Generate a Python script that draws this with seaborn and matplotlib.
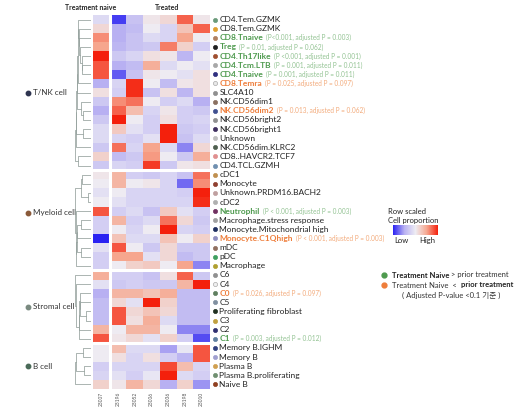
import numpy as np
import pandas as pd
import seaborn as sns
import matplotlib.pyplot as plt
from matplotlib.colors import LinearSegmentedColormap
from matplotlib.transforms import blended_transform_factory

# ---- data ----
samples = ["23007", "23196", "23052", "23006", "23036", "23198", "23010"]

groups = ["T/NK cell", "Myeloid cell", "Stromal cell", "B cell"]
group_sizes = [17, 11, 8, 5]
group_dot_colors = ["#2e3550", "#8a5a3a", "#7a8a80", "#4a6a58"]

cell_types = [
    "CD4.Tem.GZMK", "CD8.Tem.GZMK", "CD8.Tnaive", "Treg", "CD4.Th17like",
    "CD4.Tcm.LTB", "CD4.Tnaive", "CD8.Temra", "SLC4A10", "NK.CD56dim1",
    "NK.CD56dim2", "NK.CD56bright2", "NK.CD56bright1", "Unknown",
    "NK.CD56dim.KLRC2", "CD8..HAVCR2.TCF7", "CD4.TCL.GZMH",
    "cDC1", "Monocyte", "Unknown.PRDM16.BACH2", "cDC2", "Neutrophil",
    "Macrophage.stress response", "Monocyte.Mitochondrial high",
    "Monocyte.C1Qhigh", "mDC", "pDC", "Macrophage",
    "C6", "C4", "C0", "C5", "Proliferating fibroblast", "C3", "C2", "C1",
    "Memory B.IGHM", "Memory B", "Plasma B", "Plasma B.proliferating", "Naive B",
]

# row-scaled proportions (z-score like), one list per sample column
naive = [-0.3, 0.3, 1.2, 1.0, 2.0, 1.6, 1.6, -1.0, 0.2, -0.6, -1.0, -0.6, -0.3, -0.3, -0.6, 0.4, -0.6,
         0.1, 0.0, -0.2, 0.0, 1.6, -0.5, -0.5, -2.2, -0.2, -0.5, -0.5,
         0.9, -0.2, -1.0, -0.8, -0.8, -0.8, 0.8, 1.6,
         0.0, 0.0, -0.5, -0.4, 0.4]
t1 = [-1.8, -1.0, -1.0, -0.9, -0.6, -1.0, -1.6, -0.4, -0.5, 1.2, 1.5, 2.0, 0.5, -0.4, 1.4, -0.8, -0.4,
      0.8, 0.8, 0.0, -0.2, -0.5, 0.8, 0.0, 0.6, 1.6, 1.0, 0.0,
      -0.5, -0.6, 0.8, 0.3, 1.6, 1.6, 0.0, 0.1,
      0.7, 0.2, -0.4, -0.2, 0.1]
t2 = [-0.7, -0.8, -0.7, -0.7, -0.4, -0.8, -0.7, 1.9, 1.9, 1.4, 0.7, 0.0, -0.2, -0.5, -0.4, -0.6, -0.5,
      -0.5, 0.0, -0.4, -0.4, -0.3, -0.5, -0.4, -0.3, 0.0, 1.0, 0.4,
      -0.5, -0.5, 0.8, -0.2, 0.3, 0.2, 0.8, 0.3,
      -0.3, -0.4, -0.4, -0.5, 0.8]
t3 = [0.1, 0.0, -0.3, -0.6, 0.2, 0.9, 0.1, 0.0, -0.7, 0.0, -0.4, -0.5, -0.5, -0.2, 1.0, 1.1, 1.8,
      -0.6, 0.1, -0.4, -0.4, -0.7, -0.3, 0.0, -0.3, -0.6, -0.2, 0.5,
      -0.7, -0.6, 0.6, 2.0, 0.6, 0.9, 0.8, -0.2,
      -0.3, 0.2, -0.4, -0.1, 0.3]
t4 = [0.3, -0.4, -0.4, 1.3, 0.1, -0.3, 0.0, -0.8, 0.2, -0.5, 0.1, 0.2, 2.0, 2.0, -0.3, 0.0, -0.6,
      -0.4, -0.4, -0.4, -0.4, 0.5, 1.4, 2.0, 0.6, 0.3, 0.3, 0.0,
      0.2, -0.6, 0.9, 0.4, 0.3, -0.3, 0.0, 0.4,
      -1.1, -0.5, 1.7, 2.0, -1.0]
t5 = [1.5, 0.6, 1.0, 0.4, -0.9, 0.0, -0.2, 0.1, -0.9, -0.3, -0.5, -0.5, -0.6, -0.7, -1.3, -0.6, 0.1,
      -0.7, -1.5, -0.5, -0.4, -0.2, 0.3, -0.4, 0.0, -0.6, -0.8, 1.0,
      1.5, 0.8, -0.8, -0.8, -0.8, -0.8, -1.3, -0.5,
      -0.1, -0.9, 0.7, -0.3, 0.4]
t6 = [0.1, 1.5, 0.0, -0.5, 0.0, -0.2, 0.2, 0.2, 0.2, -1.0, -0.6, -0.4, -0.5, -0.3, 0.3, 0.9, 0.2,
      1.4, 1.2, 2.0, 1.9, -0.5, -0.6, -0.5, 0.4, -0.6, -0.6, -1.3,
      -0.6, 2.0, -0.8, -0.8, -0.8, -0.8, -1.3, -1.7,
      1.6, 1.6, -0.4, -0.5, -1.2]

dot_colors = [
    "#6a9a7a", "#e0a030", "#b08060", "#202020", "#a05030", "#a8a8a8", "#303080",
    "#e8e8e8", "#909090", "#8a7060", "#405090", "#909090", "#403060", "#c0c0c0",
    "#506050", "#e09090", "#7090b0",
    "#c09050", "#904030", "#c0a0a0", "#b0b0b0", "#703060", "#a0a0a0", "#203060",
    "#9090c0", "#907060", "#40a060", "#b0a030",
    "#909090", "#f0f0f0", "#608060", "#8090a0", "#203020", "#c0a040", "#303070", "#6080a0",
    "#304080", "#a0a0d0", "#d0a050", "#709070", "#904020",
]

# significance: "up" = naive > treated (green), "down" = naive < treated (orange)
sig = {
    "CD8.Tnaive": ("up", "(P<0.001, adjusted P = 0.003)"),
    "Treg": ("up", "(P = 0.01, adjusted P = 0.062)"),
    "CD4.Th17like": ("up", "(P <0.001, adjusted P = 0.001)"),
    "CD4.Tcm.LTB": ("up", "(P = 0.001, adjusted P = 0.011)"),
    "CD4.Tnaive": ("up", "(P = 0.001, adjusted P = 0.011)"),
    "CD8.Temra": ("down", "(P = 0.025, adjusted P = 0.097)"),
    "NK.CD56dim2": ("down", "(P = 0.013, adjusted P = 0.062)"),
    "Neutrophil": ("up", "(P < 0.001, adjusted P = 0.003)"),
    "Monocyte.C1Qhigh": ("down", "(P < 0.001, adjusted P = 0.003)"),
    "C0": ("down", "(P = 0.026, adjusted P = 0.097)"),
    "C1": ("up", "(P = 0.003, adjusted P = 0.012)"),
}
sig_colors = {"up": ("#4e9a4e", "#93c393"), "down": ("#ee7d3a", "#f3ab7c")}


def adjacent_tree(block, offset):
    # agglomerate neighbouring rows only, so the tree keeps the display order
    nodes = [(offset + i + 0.5, 0.0, [i]) for i in range(len(block))]
    segs = []
    while len(nodes) > 1:
        best = None
        for k in range(len(nodes) - 1):
            a = block[nodes[k][2]].mean(axis=0)
            b = block[nodes[k + 1][2]].mean(axis=0)
            d = np.linalg.norm(a - b) / np.sqrt(len(nodes[k][2]) + len(nodes[k + 1][2]))
            if best is None or d < best[0]:
                best = (d, k)
        d, k = best
        (ya, ha, ma), (yb, hb, mb) = nodes[k], nodes[k + 1]
        h = max(d, ha, hb) + 0.05
        segs.append(([ha, h, h, hb], [ya, ya, yb, yb]))
        nodes[k:k + 2] = [((ya + yb) / 2, h, ma + mb)]
    return segs, nodes[0][1]


def main():
    df = pd.DataFrame({s: v for s, v in zip(samples, [naive, t1, t2, t3, t4, t5, t6])},
                      index=cell_types)

    sns.set_style("white")
    plt.rcParams["font.family"] = ["Lato", "Noto Sans CJK KR", "DejaVu Sans"]

    cmap = LinearSegmentedColormap.from_list("bwr_soft", ["#2a22f2", "#b8b0f2", "#eeecf3", "#f6a890", "#f4200c"])

    W, H = 521, 412
    fig = plt.figure(figsize=(W / 100, H / 100), dpi=100)
    top_px, bot_px, left_px, right_px = 15, 389, 93, 210
    ax = fig.add_axes([left_px / W, 1 - bot_px / H, (right_px - left_px) / W, (bot_px - top_px) / H])
    cax = fig.add_axes([393 / W, 1 - 235 / H, 45 / W, 10 / H])

    sns.heatmap(df, ax=ax, cmap=cmap, vmin=-2, vmax=2, cbar_ax=cax,
                cbar_kws={"orientation": "horizontal"}, yticklabels=False)
    ax.set_xticklabels(samples, rotation=90, fontsize=3.5, color="#555555")
    ax.tick_params(axis="x", length=0, pad=2)
    ax.set_ylabel("")

    # white gaps between groups and between naive / treated
    bounds = np.cumsum(group_sizes)[:-1]
    for b in bounds:
        ax.axhline(b, color="white", lw=2.2)
    ax.axvline(1, color="white", lw=2.2)

    cax.set_xticks([])
    cax.set_yticks([])
    cbar = ax.collections[0].colorbar
    if cbar is not None:
        cbar.outline.set_visible(False)
    for s in cax.spines.values():
        s.set_visible(False)
    fig.text(388 / W, 1 - 211 / H, "Row scaled", fontsize=5.5, va="center", color="#222222")
    fig.text(388 / W, 1 - 220 / H, "Cell proportion", fontsize=5.5, va="center", color="#222222")
    fig.text(401 / W, 1 - 241 / H, "Low", fontsize=5.5, va="center", ha="center", color="#222222")
    fig.text(427 / W, 1 - 241 / H, "High", fontsize=5.5, va="center", ha="center", color="#222222")

    # column headers
    fig.text(91 / W, 1 - 8 / H, "Treatment naive", fontsize=5, fontweight="bold", ha="center", va="center")
    fig.text(167 / W, 1 - 8 / H, "Treated", fontsize=5, fontweight="bold", ha="center", va="center")

    # row labels with dots
    trans = blended_transform_factory(ax.transAxes, ax.transData)
    for i, name in enumerate(cell_types):
        y = i + 0.5
        light = dot_colors[i] in ("#e8e8e8", "#f0f0f0")
        ax.plot([1.045], [y], "o", ms=3, color=dot_colors[i],
                mec="#aaaaaa" if light else dot_colors[i],
                mew=0.5, transform=trans, clip_on=False)
        if name in sig:
            kind, note = sig[name]
            c_main, c_note = sig_colors[kind]
            t = ax.text(1.08, y, name, transform=trans, fontsize=6.0, fontweight="bold",
                        color=c_main, va="center", ha="left")
            ax.annotate(note, xy=(1, 0.5), xycoords=t, xytext=(2, 0), textcoords="offset points",
                        fontsize=4.7, color=c_note, va="center", ha="left")
        else:
            ax.text(1.08, y, name, transform=trans, fontsize=6.0, color="#222222",
                    va="center", ha="left")

    # dendrogram per group
    dax = fig.add_axes([75 / W, 1 - bot_px / H, (left_px - 2 - 75) / W, (bot_px - top_px) / H])
    dax.set_ylim(len(cell_types), 0)
    dax.set_xlim(1.02, 0)
    dax.axis("off")
    start = 0
    values = df.values
    for size in group_sizes:
        segs, root = adjacent_tree(values[start:start + size], start)
        for xs, ys in segs:
            dax.plot(np.array(xs) / root, ys, color="#94a09c", lw=0.55)
        start += size

    # group labels on the left
    start = 0
    for g, size, gc in zip(groups, group_sizes, group_dot_colors):
        y = start + size / 2
        if g == "Myeloid cell":
            y -= 0.8
        ax.plot([-0.555], [y], "o", ms=3.2, color=gc, transform=trans, clip_on=False)
        ax.text(-0.51, y, g, transform=trans, fontsize=5.8, color="#333333", va="center", ha="left")
        start += size

    # significance legend
    lx = 384 / W
    fig.lines.append(plt.Line2D([lx], [1 - 275 / H], marker="o", ms=3.5, color="#4e9a4e",
                                transform=fig.transFigure))
    t1_ = fig.text(392 / W, 1 - 275 / H, "Treatment Naive", fontsize=5.5, fontweight="bold",
                   va="center", color="#222222")
    ax.annotate(" > prior treatment", xy=(1, 0.5), xycoords=t1_, fontsize=5.5, va="center",
                color="#333333", annotation_clip=False)
    fig.lines.append(plt.Line2D([lx], [1 - 285 / H], marker="o", ms=3.5, color="#ee7d3a",
                                transform=fig.transFigure))
    t2_ = fig.text(392 / W, 1 - 285 / H, "Treatment Naive  <  ", fontsize=5.5,
                   va="center", color="#333333")
    ax.annotate("prior treatment", xy=(1, 0.5), xycoords=t2_, fontsize=5.5, fontweight="bold",
                va="center", color="#222222", annotation_clip=False)
    fig.text(451 / W, 1 - 295 / H, "( Adjusted P-value <0.1 기준 )", fontsize=5.5,
             ha="center", va="center", color="#333333")

    fig.savefig("out.png", dpi=100)
    plt.close(fig)


if __name__ == "__main__":
    main()
